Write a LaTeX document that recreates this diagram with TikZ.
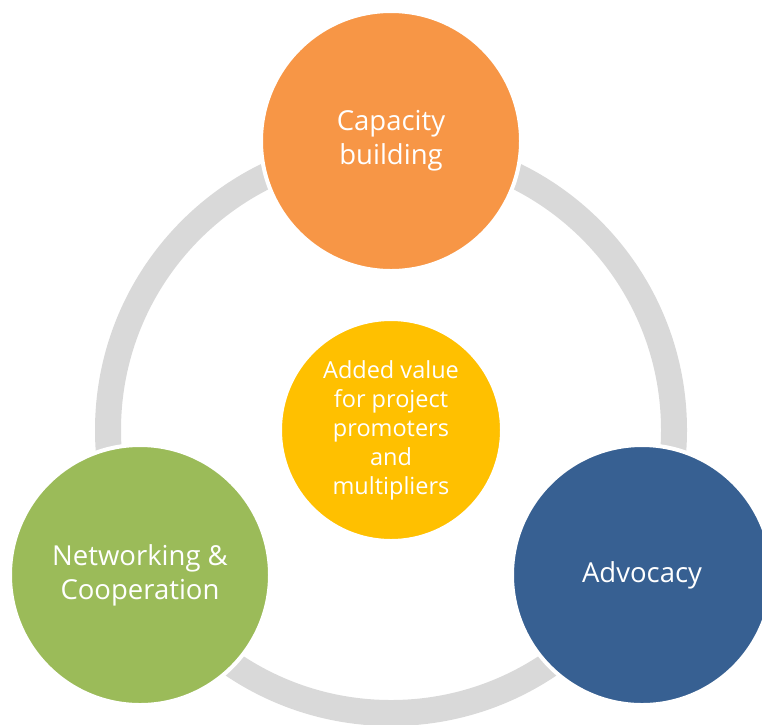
\documentclass[tikz,border=0pt]{standalone}
\usepackage{fontspec}
\setmainfont{Open Sans}
\usetikzlibrary{positioning}
\definecolor{caporange}{HTML}{F79646}
\definecolor{hubyellow}{HTML}{FFC000}
\definecolor{netgreen}{HTML}{9BBB59}
\definecolor{advblue}{HTML}{376092}
\definecolor{ringgray}{HTML}{D9D9D9}

\begin{document}
\begin{tikzpicture}[x=1pt,y=-1pt]
  \tikzstyle{bubble}=[circle,draw=white,line width=4pt,inner sep=0pt,text=white,align=center,
                      minimum size=260pt,font=\fontsize{27.5}{34}\selectfont]
  \tikzstyle{hubble}=[bubble,minimum size=222pt,font=\fontsize{23.5}{29}\selectfont]
  \tikzstyle{ring}=[draw=ringgray,line width=26pt]
  \useasboundingbox (0,0) rectangle (762,724);

  \node[hubble,fill=hubyellow] (hub) at (391,430) {Added value\\for project\\promoters\\and\\multipliers};
  \draw[ring] (hub.center) circle [radius=283pt];

  \node[bubble,fill=caporange] (cap) at (391,141) {Capacity\\building};
  \node[bubble,fill=netgreen]  (net) at (140,575) {Networking \&\\Cooperation};
  \node[bubble,fill=advblue]   (adv) at (642,575) {Advocacy};
\end{tikzpicture}
\end{document}
